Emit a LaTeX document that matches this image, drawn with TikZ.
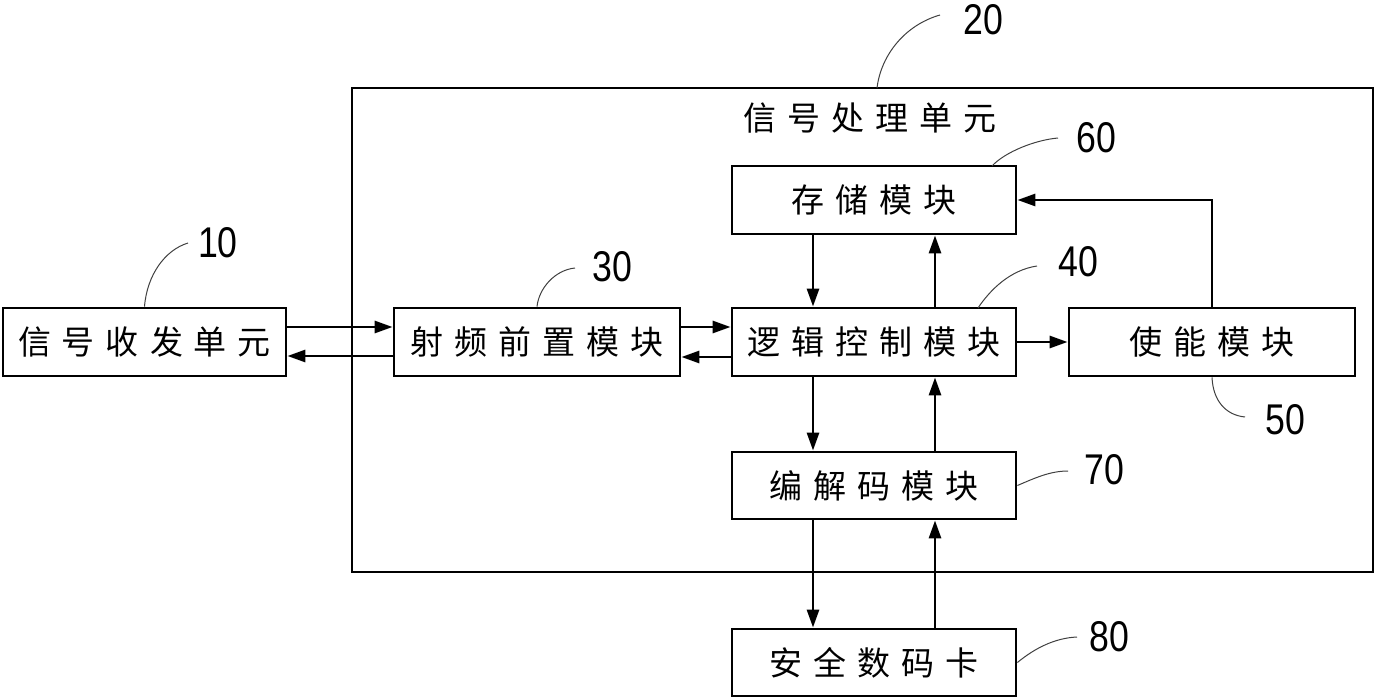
\documentclass[tikz,border=0pt]{standalone}
\usepackage{fontspec}
\newfontfamily\cjk{Noto Sans CJK SC}
\newfontfamily\numfont{Liberation Sans}
\usetikzlibrary{arrows.meta}
\newcommand\spaced[1]{\spacedA#1\relax}
\def\spacedA#1{#1\spacedB}
\def\spacedB#1{\ifx#1\relax\else\kern11pt#1\expandafter\spacedB\fi}
\tikzset{
  box/.style={draw, line width=2.8pt, minimum height=68pt, inner sep=0pt,
              font=\cjk\fontsize{33}{39}\selectfont},
  conn/.style={line width=2.8pt, -{Triangle[length=18pt,width=12pt]}},
  lead/.style={line width=1pt, black!75},
  num/.style={font=\numfont\fontsize{43}{43}\selectfont, xscale=0.83, inner sep=0pt},
  ttl/.style={font=\cjk\fontsize{33}{39}\selectfont, inner sep=0pt}
}
\begin{document}
\begin{tikzpicture}[x=1pt,y=-1pt]
\useasboundingbox (0,0) rectangle (1375,700);
% outer unit
\node[draw, line width=2.8pt, minimum width=1021pt, minimum height=484pt, inner sep=0pt] (unit) at (862.5,330) {};
\node[ttl] (title) at (870,118) {\spaced{信号处理单元}};
% boxes
\node[box, minimum width=283pt] (b10) at (144.5,342) {\spaced{信号收发单元}};
\node[box, minimum width=286pt] (b30) at (537,342) {\spaced{射频前置模块}};
\node[box, minimum width=284pt] (b40) at (874,342) {\spaced{逻辑控制模块}};
\node[box, minimum width=286pt] (b50) at (1212,342) {\spaced{使能模块}};
\node[box, minimum width=284pt] (b60) at (874,200) {\spaced{存储模块}};
\node[box, minimum width=284pt, minimum height=67pt] (b70) at (874,485.5) {\spaced{编解码模块}};
\node[box, minimum width=284pt, minimum height=67pt] (b80) at (874,662.5) {\spaced{安全数码卡}};
% connectors
\draw[conn] ([yshift=15pt]b10.east) -- ([yshift=15pt]b30.west);
\draw[conn] ([yshift=-14pt]b30.west) -- ([yshift=-14pt]b10.east);
\draw[conn] ([yshift=15pt]b30.east) -- ([yshift=15pt]b40.west);
\draw[conn] ([yshift=-15pt]b40.west) -- ([yshift=-15pt]b30.east);
\draw[conn] (b40.east) -- (b50.west);
\draw[conn] ([xshift=-61pt]b60.south) -- ([xshift=-61pt]b40.north);
\draw[conn] ([xshift=61pt]b40.north) -- ([xshift=61pt]b60.south);
\draw[conn] ([xshift=-61pt]b40.south) -- ([xshift=-61pt]b70.north);
\draw[conn] ([xshift=61pt]b70.north) -- ([xshift=61pt]b40.south);
\draw[conn] ([xshift=-61pt]b70.south) -- ([xshift=-61pt]b80.north);
\draw[conn] ([xshift=61pt]b80.north) -- ([xshift=61pt]b70.south);
\draw[conn] (b50.north) |- (b60.east);
% labels
\node[num] (l10) at (218,243) {10};
\node[num] (l20) at (983,20) {20};
\node[num] (l30) at (612,267) {30};
\node[num] (l40) at (1078,262) {40};
\node[num] (l50) at (1285,420) {50};
\node[num] (l60) at (1096,138) {60};
\node[num] (l70) at (1104,470) {70};
\node[num] (l80) at (1109,637) {80};
\coordinate (e10) at (188,243);
\coordinate (e20) at (940,15);
\coordinate (e30) at (575,268);
\coordinate (e40) at (1037,266);
\coordinate (e50) at (1245,417);
\coordinate (e60) at (1058,138);
\coordinate (e70) at (1068,471);
\coordinate (e80) at (1077,637);
\coordinate (s20) at (877,88);
\coordinate (s60) at (992,166);
\coordinate (s40) at (978,308);
% leaders
\draw[lead] (b10.north) .. controls (147,275) and (165,250) .. (e10);
\draw[lead] (b30.north) .. controls (539,288) and (555,270) .. (e30);
\draw[lead] (s20) .. controls (881,55) and (905,25) .. (e20);
\draw[lead] (s60) .. controls (1005,152) and (1035,140) .. (e60);
\draw[lead] (s40) .. controls (990,290) and (1010,270) .. (e40);
\draw[lead] (b50.south) .. controls (1213,400) and (1225,415) .. (e50);
\draw[lead] (b70.east) .. controls (1035,478) and (1050,471) .. (e70);
\draw[lead] (b80.east) .. controls (1035,648) and (1055,638) .. (e80);
\end{tikzpicture}
\end{document}
